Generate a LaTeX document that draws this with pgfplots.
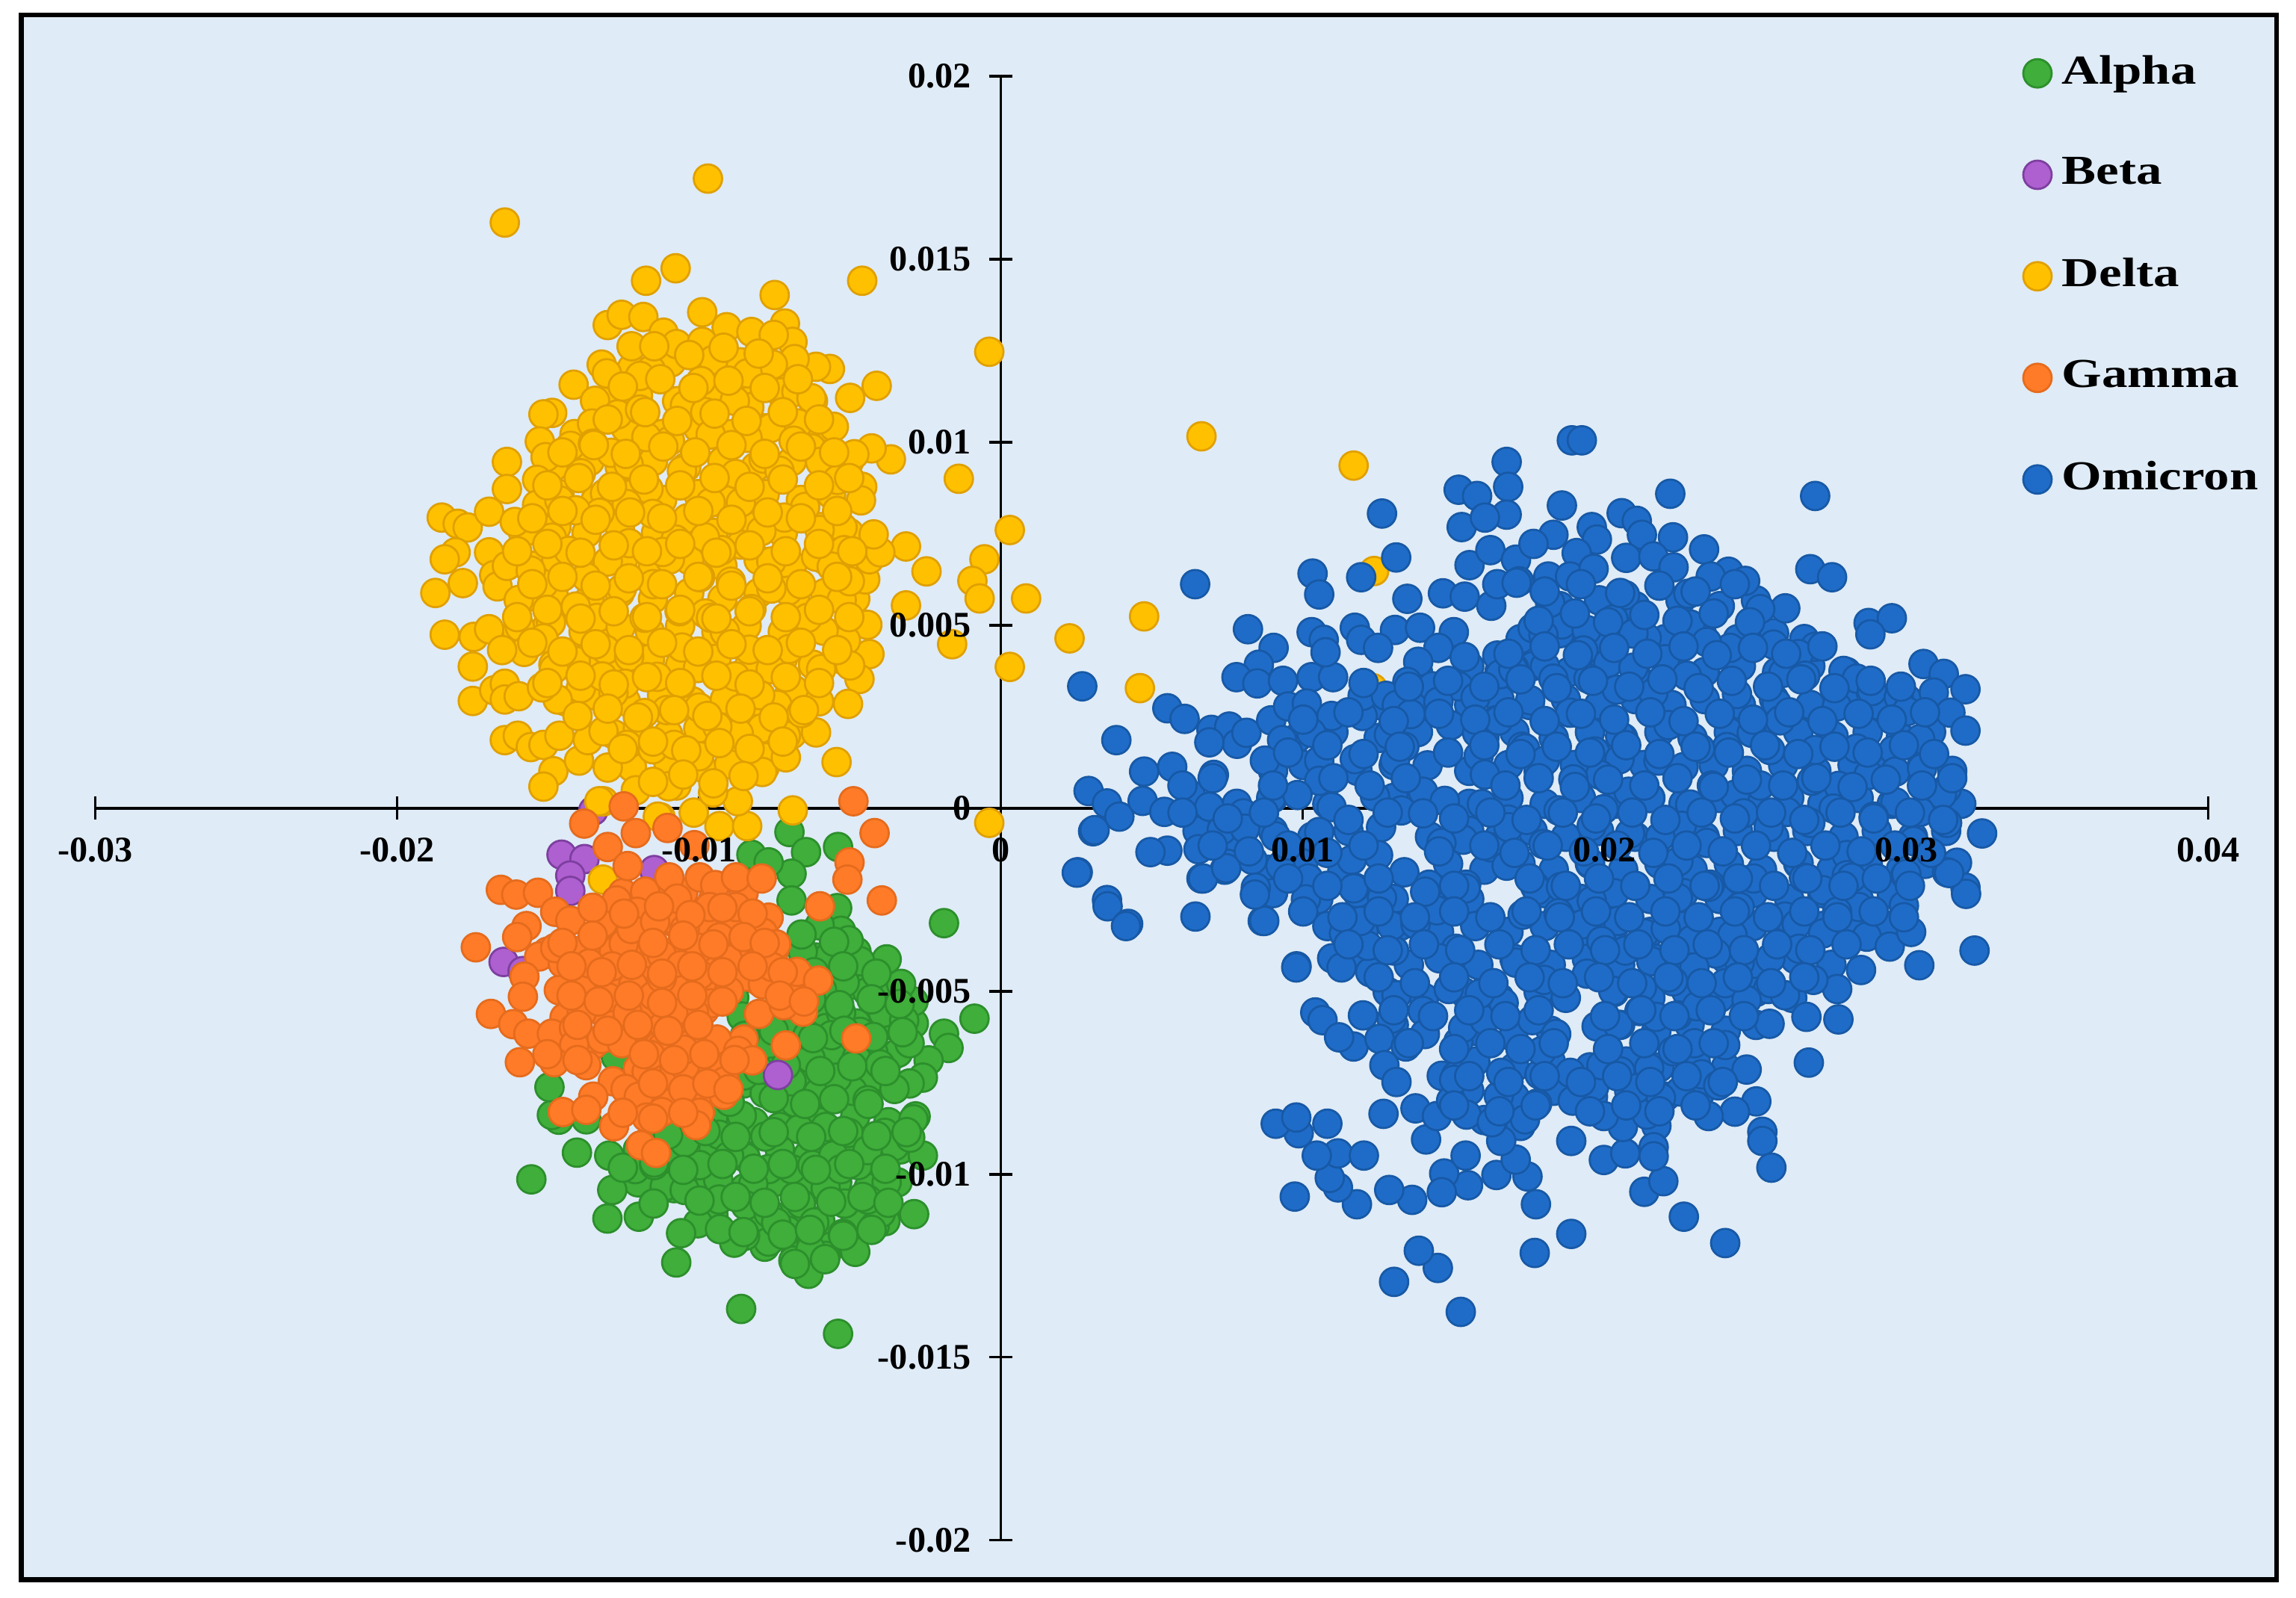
\documentclass[border=0pt]{standalone}
\usepackage{fontspec}
\setmainfont{Liberation Serif}
\newfontfamily\legfont[FakeStretch=1.25]{Liberation Serif}
\usepackage{pgfplots}
\pgfplotsset{compat=1.18}
\definecolor{bgblue}{HTML}{DFEBF6}
\definecolor{alphafill}{HTML}{3FAE3A}
\definecolor{alphaedge}{HTML}{2C8F2C}
\definecolor{betafill}{HTML}{AE5FD0}
\definecolor{betaedge}{HTML}{7D3F9F}
\definecolor{deltafill}{HTML}{FFC000}
\definecolor{deltaedge}{HTML}{E0A000}
\definecolor{gammafill}{HTML}{FF7B27}
\definecolor{gammaedge}{HTML}{E56B1D}
\definecolor{omifill}{HTML}{1F6CC8}
\definecolor{omiedge}{HTML}{1759A6}
% tick labels sit above the points, the axis lines below them
\pgfplotsset{layers/labeltop/.define layer set={axis background,axis grid,axis ticks,axis lines,pre main,main,axis tick labels,axis descriptions,axis foreground}{
  tick style={/pgfplots/on layer=axis ticks},
  axis line style={/pgfplots/on layer=axis lines},
  legend style={/pgfplots/on layer=axis descriptions},
  ticklabel style={/pgfplots/on layer=axis tick labels},
}}
\pgfplotsset{pt/.style n args={2}{only marks, mark=*, mark size=0.97mm,
  mark options={fill=#1, draw=#2, line width=0.4pt}}}
\begin{document}
\begin{tikzpicture}
\begin{axis}[
  scale only axis, width=14.43cm, height=10cm,
  xmin=-0.03, xmax=0.04, ymin=-0.02, ymax=0.02,
  axis lines=middle, clip=false, set layers=labeltop, scaled ticks=false,
  axis line style={-, black, line width=0.5pt},
  hide obscured x ticks=false, hide obscured y ticks=false,
  tick align=center, major tick length=0.16cm,
  tick style={black, line width=0.5pt},
  xtick={-0.03,-0.02,-0.01,0,0.01,0.02,0.03,0.04},
  xticklabels={-0.03,-0.02,-0.01,0,0.01,0.02,0.03,0.04},
  ytick={-0.02,-0.015,-0.01,-0.005,0,0.005,0.01,0.015,0.02},
  yticklabels={-0.02,-0.015,-0.01,-0.005,0,0.005,0.01,0.015,0.02},
  tick label style={font=\bfseries\fontsize{7}{8}\selectfont},
  legend style={at={(axis description cs:0.912,1.022)}, anchor=north west, draw=none, fill=none,
    font=\legfont\bfseries\fontsize{8}{8}\selectfont, row sep=0.31cm, inner sep=0pt},
  legend cell align=left,
]
\begin{pgfonlayer}{axis background}
\fill[white] ([shift={(-0.65cm,-0.39cm)}]rel axis cs:0,0) rectangle ([shift={(0.6cm,0.52cm)}]rel axis cs:1,1);
\draw[black, line width=0.95pt, fill=bgblue] ([shift={(-0.505cm,-0.27cm)}]rel axis cs:0,0) rectangle ([shift={(0.466cm,0.418cm)}]rel axis cs:1,1);
\end{pgfonlayer}
\addplot[pt={alphafill}{alphaedge}] coordinates {
(-.00612,-.00408)(-.00478,-.00392)
(-.00682,-.00482)(-.00578,-.00498)(-.00482,-.00482)(-.00378,-.00498)
(-.00792,-.00572)(-.00678,-.00588)(-.00582,-.00572)(-.00478,-.00588)(-.00372,-.00572)(-.00288,-.00588)
(-.00878,-.00662)(-.00802,-.00678)(-.00682,-.00662)(-.00558,-.00678)(-.00462,-.00662)(-.00362,-.00678)
(-.00852,-.00752)(-.00748,-.00768)(-.00662,-.00752)(-.00548,-.00768)(-.00442,-.00752)
(-.00952,-.00842)(-.00818,-.00858)(-.00702,-.00842)(-.00598,-.00858)(-.00482,-.00842)(-.00372,-.00858)(-.00282,-.00842)
(-.01202,-.00932)(-.01078,-.00948)(-.00952,-.00932)(-.00848,-.00948)(-.00732,-.00932)(-.00638,-.00948)(-.00522,-.00932)(-.00432,-.00948)(-.00332,-.00932)
(-.01202,-.01022)(-.01082,-.01038)(-.00962,-.01022)(-.00848,-.01038)(-.00752,-.01022)(-.00648,-.01038)(-.00542,-.01022)(-.00438,-.01038)(-.00342,-.01022)
(-.00952,-.01112)(-.00822,-.01128)(-.00702,-.01112)(-.00598,-.01128)(-.00482,-.01112)(-.00382,-.01128)
(-.00782,-.01198)(-.00678,-.01212)(-.00562,-.01198)(-.00482,-.01212)
(-.007,-.00065)(-.00645,-.0012)(-.00539,-.00106)(-.00693,-.00179)(-.00826,-.00127)(-.00769,-.00148)
(-.00693,-.00252)(-.00542,-.00273)(-.00529,-.00335)(-.00188,-.00314)(-.00378,-.00413)(-.00466,-.00418)
(-.00087,-.00575)(-.00188,-.00616)(-.00173,-.00655)(-.00239,-.00689)(-.00258,-.00736)(-.00302,-.00752)
(-.00289,-.0085)(-.00258,-.00949)(-.00384,-.00887)(-.00472,-.00975)(-.00378,-.01022)(-.00287,-.01109)
(-.00418,-.01142)(-.00397,-.01106)(-.00523,-.01163)(-.0058,-.01223)(-.00637,-.01272)(-.00687,-.01236)
(-.00706,-.01154)(-.00769,-.01184)(-.00847,-.01168)(-.00883,-.01187)(-.01003,-.01134)(-.01059,-.01161)
(-.01075,-.01241)(-.0086,-.01368)(-.00539,-.01436)(-.01199,-.01116)(-.01303,-.01121)(-.01287,-.01043)
(-.01555,-.01014)(-.01404,-.00941)(-.01297,-.00949)(-.01211,-.00986)(-.01113,-.01033)(-.01047,-.01043)
(-.01464,-.00851)(-.01487,-.00838)(-.01495,-.00762)(-.01275,-.00679)(-.01373,-.0085)(-.00352,-.00595)
(-.0034,-.00668)(-.00422,-.00668)(-.00441,-.00502)(-.00517,-.00476)(-.00289,-.00528)(-.00567,-.00403)
(-.00656,-.00392)(-.0058,-.00601)(-.0063,-.00684)(-.00491,-.00772)(-.00605,-.00778)(-.00681,-.00804)
(-.00782,-.00778)(-.00858,-.0084)(-.00732,-.00871)(-.00668,-.00877)(-.0058,-.00871)(-.00504,-.00887)
(-.0078,-.00897)(-.00845,-.00955)(-.00769,-.00986)(-.00693,-.00986)(-.00624,-.00975)(-.00554,-.00949)
(-.00936,-.01015)(-.0082,-.01027)(-.0058,-.01038)(-.00517,-.0108)(-.00662,-.0108)(-.00845,-.01085)
(-.00769,-.01106)(-.00933,-.01069)(-.00618,-.01132)(-.00441,-.01069)(-.00997,-.00975)(-.00933,-.00892)
(-.01047,-.00913)(-.01148,-.00975)(-.00441,-.00798)(-.00352,-.00767)(-.00478,-.00684)(-.00542,-.00736)
(-.00693,-.00746)(-.00883,-.00517)(-.00858,-.00569)(-.00529,-.00559)(-.00466,-.00611)(-.00693,-.00611)
(-.00352,-.00923)(-.00441,-.00934)(-.00592,-.00497)(-.00504,-.00361)(-.0039,-.00559)(-.00302,-.00642)
(-.00529,-.00986)(-.0063,-.01205)(-.00744,-.01132)(-.0064,-.0053)(-.0078,-.0066)(-.0085,-.0073)
(-.004,-.007)(-.0032,-.0058)(-.0033,-.0048)(-.006,-.0032)(-.009,-.0095)(-.003,-.009)
(-.0056,-.0062)(-.0064,-.0062)(-.0076,-.0072)(-.0093,-.0115)(-.0115,-.0108)(-.0115,-.009)
(-.0066,-.00345)(-.00552,-.00365)(-.00618,-.00448)(-.00522,-.00432)(-.00412,-.00452)
(-.00718,-.00538)(-.00628,-.00522)(-.00535,-.00538)(-.00428,-.00522)(-.00335,-.00535)
(-.00848,-.00622)(-.00752,-.00608)(-.00622,-.00628)(-.00518,-.00608)(-.00422,-.00625)(-.00325,-.00612)
(-.00802,-.00715)(-.00712,-.00702)(-.00598,-.00718)(-.00492,-.00705)(-.00382,-.00718)
(-.00898,-.00802)(-.00752,-.00792)(-.00648,-.00808)(-.00552,-.00795)(-.00438,-.00808)
(-.01102,-.00892)(-.00978,-.00882)(-.00878,-.00898)(-.00752,-.00885)(-.00628,-.00898)(-.00522,-.00882)(-.00412,-.00895)(-.00312,-.00885)
(-.01252,-.00982)(-.01148,-.00968)(-.01052,-.00988)(-.00922,-.00972)(-.00818,-.00985)(-.00722,-.00972)(-.00612,-.00988)(-.00502,-.00972)(-.00382,-.00985)
(-.00998,-.01072)(-.00878,-.01062)(-.00782,-.01078)(-.00682,-.01062)(-.00562,-.01075)(-.00458,-.01062)(-.00372,-.01078)
(-.00852,-.01158)(-.00722,-.01165)(-.00632,-.01152)(-.00522,-.01168)(-.00428,-.01152)
(-.00682,-.01245)(-.00582,-.01232)
};
\addlegendentry{Alpha}
\addplot[pt={betafill}{betaedge}] coordinates {
(-.01455,-.00127)(-.01379,-.00139)(-.01426,-.00184)(-.01426,-.00226)(-.0135,-.00007)(-.01647,-.0042)
(-.01584,-.00445)(-.00738,-.00729)(-.01098,-.00757)(-.01148,-.00169)
};
\addlegendentry{Beta}
\addplot[pt={deltafill}{deltaedge}] coordinates {
(-.01222,.01202)(-.01092,.01218)(-.00972,.01202)(-.00862,.01218)(-.00742,.01202)
(-.01322,.01112)(-.01202,.01128)(-.01072,.01112)(-.00962,.01128)(-.00842,.01112)(-.00722,.01128)(-.00622,.01112)
(-.01412,.01022)(-.01242,.01038)(-.01122,.01022)(-.01002,.01038)(-.00892,.01022)(-.00782,.01038)(-.00662,.01022)(-.00562,.01038)
(-.01482,.00932)(-.01362,.00948)(-.01262,.00932)(-.01152,.00948)(-.01042,.00932)(-.00922,.00948)(-.00812,.00932)(-.00692,.00948)(-.00582,.00932)(-.00502,.00948)
(-.01522,.00842)(-.01462,.00858)(-.01342,.00842)(-.01222,.00858)(-.01122,.00842)(-.01002,.00858)(-.00892,.00842)(-.00782,.00858)(-.00662,.00842)(-.00562,.00858)
(-.01582,.00752)(-.01472,.00768)(-.01372,.00752)(-.01262,.00768)(-.01142,.00752)(-.01062,.00768)(-.00952,.00752)(-.00832,.00768)(-.00722,.00752)(-.00602,.00768)(-.00502,.00752)
(-.01552,.00662)(-.01472,.00678)(-.01362,.00662)(-.01252,.00678)(-.01152,.00662)(-.01032,.00678)(-.00922,.00662)(-.00802,.00678)(-.00692,.00662)(-.00582,.00678)(-.00482,.00662)
(-.01582,.00572)(-.01482,.00588)(-.01362,.00572)(-.01262,.00588)(-.01152,.00572)(-.01032,.00588)(-.00922,.00572)(-.00802,.00588)(-.00682,.00572)(-.00582,.00588)(-.00482,.00572)
(-.01602,.00482)(-.01502,.00498)(-.01382,.00482)(-.01282,.00498)(-.01162,.00482)(-.01062,.00498)(-.00942,.00482)(-.00842,.00498)(-.00722,.00482)(-.00622,.00498)(-.00522,.00482)
(-.01482,.00392)(-.01382,.00408)(-.01272,.00392)(-.01162,.00408)(-.01062,.00392)(-.00942,.00408)(-.00832,.00392)(-.00722,.00408)(-.00622,.00392)(-.00532,.00408)
(-.01442,.00292)(-.01342,.00308)(-.01242,.00292)(-.01122,.00308)(-.01022,.00292)(-.00902,.00308)(-.00802,.00292)(-.00702,.00308)(-.00602,.00292)
(-.01282,.00202)(-.01202,.00218)(-.01102,.00202)(-.01002,.00218)(-.00902,.00202)(-.00792,.00218)(-.00692,.00202)
(-.01222,.00112)(-.01102,.00128)(-.00992,.00112)(-.00872,.00128)(-.00782,.00112)
(-.0097,.0172)(-.01643,.0160)(-.01077,.01475)(-.01175,.01441)(-.00459,.01441)(-.00749,.01402)(-.00038,.01247)
(-.00411,.01154)(-.00499,.01121)(-.00566,.0120)(-.00612,.01206)(-.00364,.00953)(-.00428,.00983)(-.00139,.009)
(-.00485,.00967)(.0003,.0076)(-.00054,.0068)(-.00094,.00621)(-.0007,.00573)(.00084,.00573)(-.00314,.00715)
(-.00246,.00647)(-.00314,.00554)(-.00161,.00448)(.0003,.00386)(-.00442,.00501)(-.00435,.00421)(-.00468,.00353)
(-.00506,.00285)(-.00612,.00207)(-.00544,.00126)(-.00689,-.00006)(-.00038,-.0004)
(.00665,.01016)(.01169,.00936)(.00475,.00524)(.00461,.00328)(.00228,.00464)(.01237,.00648)(.01232,.00328)
(-.01852,.00794)(-.01799,.00777)(-.01766,.00767)(-.01695,.0081)(-.01636,.00946)(-.01636,.00872)(-.01806,.00699)
(-.01842,.0068)(-.01695,.00699)(-.01782,.00615)(-.01873,.00588)(-.01678,.00637)(-.01667,.00606)(-.01842,.00474)
(-.01746,.00468)(-.01695,.00489)(-.01749,.00387)(-.01749,.00293)(-.01678,.00322)(-.01643,.0034)(-.01643,.00297)
(-.01597,.00306)(-.01643,.00186)(-.016,.00198)(-.01557,.00167)(-.01515,.00173)(-.01462,.00198)(-.01482,.00101)
(-.01515,.00059)(-.01397,.0013)(-.01368,.00186)(-.01302,.00111)(-.01316,.00019)(-.01209,.00049)(-.01127,-.00025)
(-.01017,-.00012)(-.00932,-.00049)(-.0084,-.00049)(-.00871,.00019)(-.00953,.00043)(-.01074,.00062)(-.0078,.00139)
(-.0079,.00099)(-.00712,.00139)(-.00712,.00198)(-.00868,.00204)(-.00999,.00142)(-.00686,.00324)(-.0074,.00282)
(-.00595,.0038)(-.00513,.00458)(-.00587,.00485)(-.00701,.00435)(-.00762,.0038)(-.00833,.00433)(-.00914,.00482)
(-.00979,.00532)(-.00826,.00544)(-.00705,.00594)(-.00527,.00569)(-.00449,.00625)(-.00435,.0068)(-.00399,.00699)
(-.00421,.00748)(-.00524,.00767)(-.00612,.00687)(-.0076,.00674)(-.00894,.00619)(-.00996,.00631)(-.01152,.00612)
(-.01255,.006)(-.01064,.00538)(-.01337,.0052)(-.01408,.00551)(-.01515,.00612)(-.01597,.00569)(-.01593,.00495)
(-.0149,.00507)(-.01259,.00495)(-.01579,.00427)(-.01515,.00464)(-.01309,.00433)(-.01408,.00402)(-.01231,.00414)
(-.01056,.00439)(-.01138,.00359)(-.01003,.00383)(-.01391,.00328)(-.01468,.00297)(-.01245,.0034)(-.01283,.00315)
(-.01107,.00268)(-.00999,.00275)(-.00914,.00297)(-.01316,.0021)(-.01238,.00173)(-.01153,.00161)(-.01082,.00173)
(-.00939,.00223)(-.00797,.00309)(-.00499,.0039)
(-.01302,.0132)(-.01256,.01348)(-.01184,.01342)(-.01117,.01299)(-.01074,.01268)(-.00989,.01355)(-.00908,.01314)
(-.00826,.01301)(-.00715,.01324)(-.0069,.01274)(-.00752,.01293)(-.00989,.01274)(-.01223,.01262)(-.00683,.01227)
(-.00755,.01212)(-.00839,.01188)(-.00952,.01225)(-.01159,.01197)(-.01195,.01181)(-.01322,.01212)(-.01305,.01188)
(-.01415,.01157)(-.01344,.01113)(-.01486,.0108)(-.01515,.01076)(-.01269,.01076)(-.01195,.01089)(-.01046,.01101)
(-.00993,.01167)(-.00726,.01136)(-.00677,.01138)(-.00627,.0112)(-.00833,.01095)(-.00979,.01082)(-.00881,.01113)
(-.00553,.01042)(-.00671,.01051)(-.00762,.01039)(-.00686,.01004)(-.00839,.01012)(-.00961,.01021)(-.01096,.01004)
(-.01174,.01014)(-.01354,.01051)(-.01425,.0099)(-.01527,.01002)(-.01508,.00959)(-.01351,.00996)(-.0129,.00971)
(-.01233,.0094)(-.00786,.00955)(-.00627,.00983)(-.00598,.00946)(-.00733,.00922)(-.00878,.00913)(-.01056,.00922)
(-.01391,.00915)(-.01536,.00897)(-.00541,.00897)(-.00459,.00878)(-.00463,.00841)(-.01167,.00872)(-.01311,.0086)
(-.01536,.00829)(-.01462,.00841)(-.01239,.00831)(-.00961,.00835)(-.00861,.00835)(-.00648,.00823)(-.00717,.00794)
(-.00793,.00757)(-.01038,.00792)(-.01153,.00804)(-.01329,.00807)(-.01408,.00814)(-.0161,.00782)(-.01487,.00739)
(-.01431,.00703)(-.01231,.00724)(-.01077,.00734)(-.00861,.0072)(-.00519,.00705)(-.01302,.00674)(-.01096,.0068)
(-.00925,.00705)(-.01636,.00662)(-.01557,.00649)(-.01373,.00631)
(-.01318,-.00195)(-.01136,-.00023)(-.0133,.00019)(-.006,.0076)(-.0056,.0066)(-.005,.0062)(-.0064,.0052)
(-.0088,.0036)(-.0066,.0026)(-.009,.0012)(-.0118,.0026)(-.0106,.0034)(-.0132,.0036)(-.0148,.0038)
(-.0152,.0033)(-.011,.0006)(-.0096,.0052)(-.0118,.0052)(-.0112,.007)(-.0098,.0074)(-.0076,.006)
(-.01148,.01262)(-.01032,.01238)(-.00918,.01258)(-.00802,.01242)
(-.01252,.01152)(-.01128,.01172)(-.01018,.01148)(-.00902,.01168)(-.00782,.01148)(-.00672,.01172)
(-.01302,.01062)(-.01178,.01082)(-.01072,.01058)(-.00948,.01078)(-.00842,.01058)(-.00722,.01082)(-.00602,.01062)
(-.01452,.00972)(-.01348,.00992)(-.01242,.00968)(-.01118,.00988)(-.01012,.00972)(-.00892,.00992)(-.00782,.00968)(-.00662,.00988)(-.00552,.00972)
(-.01502,.00882)(-.01398,.00902)(-.01288,.00878)(-.01182,.00898)(-.01062,.00882)(-.00948,.00902)(-.00832,.00878)(-.00722,.00898)(-.00602,.00882)(-.00502,.00902)
(-.01552,.00792)(-.01452,.00812)(-.01342,.00788)(-.01228,.00808)(-.01122,.00792)(-.01002,.00812)(-.00892,.00788)(-.00772,.00808)(-.00662,.00792)(-.00542,.00812)
(-.01602,.00702)(-.01502,.00722)(-.01392,.00698)(-.01282,.00718)(-.01172,.00702)(-.01062,.00722)(-.00942,.00698)(-.00832,.00718)(-.00712,.00702)(-.00602,.00722)(-.00492,.00702)
(-.01552,.00612)(-.01452,.00632)(-.01342,.00608)(-.01232,.00628)(-.01122,.00612)(-.01002,.00632)(-.00892,.00608)(-.00772,.00628)(-.00662,.00612)(-.00542,.00632)
(-.01602,.00522)(-.01502,.00542)(-.01392,.00518)(-.01282,.00538)(-.01172,.00522)(-.01062,.00542)(-.00942,.00518)(-.00832,.00538)(-.00712,.00522)(-.00602,.00542)(-.00502,.00522)
(-.01652,.00432)(-.01552,.00452)(-.01452,.00428)(-.01342,.00448)(-.01232,.00432)(-.01122,.00452)(-.01002,.00428)(-.00892,.00448)(-.00772,.00432)(-.00662,.00452)(-.00542,.00432)
(-.01502,.00342)(-.01392,.00362)(-.01282,.00338)(-.01172,.00358)(-.01062,.00342)(-.00942,.00362)(-.00832,.00338)(-.00712,.00358)(-.00602,.00342)
(-.01402,.00252)(-.01302,.00272)(-.01202,.00248)(-.01082,.00268)(-.00972,.00252)(-.00862,.00272)(-.00752,.00248)(-.00652,.00268)
(-.01252,.00162)(-.01152,.00182)(-.01042,.00158)(-.00932,.00178)(-.00832,.00162)(-.00722,.00182)
(-.01152,.00072)(-.01052,.00092)(-.00952,.00068)(-.00852,.00088)
};
\addlegendentry{Delta}
\addplot[pt={gammafill}{gammaedge}] coordinates {
(-.01252,-.00232)(-.01122,-.00248)(-.01052,-.00232)(-.00952,-.00248)(-.00852,-.00232)
(-.01302,-.00312)(-.01182,-.00328)(-.01082,-.00312)(-.00982,-.00328)(-.00882,-.00312)(-.00802,-.00328)
(-.01502,-.00392)(-.01352,-.00408)(-.01282,-.00392)(-.01182,-.00408)(-.01082,-.00392)(-.00982,-.00408)(-.00902,-.00392)(-.00822,-.00408)(-.00752,-.00392)
(-.01382,-.00472)(-.01282,-.00488)(-.01182,-.00472)(-.01082,-.00488)(-.00982,-.00472)(-.00902,-.00488)(-.00802,-.00472)(-.00702,-.00488)
(-.01402,-.00552)(-.01282,-.00568)(-.01182,-.00552)(-.01082,-.00568)(-.00982,-.00552)
(-.01452,-.00632)(-.01352,-.00648)(-.01252,-.00632)(-.01132,-.00648)(-.01032,-.00632)(-.00932,-.00648)(-.00852,-.00632)
(-.01202,-.00712)(-.01102,-.00728)(-.01002,-.00712)(-.00922,-.00728)
(-.01202,-.00792)(-.01102,-.00808)(-.01002,-.00792)
(-.00488,.00019)(-.00418,-.00068)(-.0138,-.00042)(-.01249,.00005)(-.01209,-.00068)(-.01104,-.00054)(-.01302,-.00106)
(-.01236,-.00158)(-.01015,-.00101)(-.00501,-.00148)(-.00508,-.00195)(-.00394,-.00252)(-.00599,-.00268)(-.01656,-.00223)
(-.01605,-.00236)(-.01533,-.00231)(-.01739,-.0038)(-.01571,-.00322)(-.01476,-.00283)(-.01426,-.00307)(-.01318,-.00314)
(-.01273,-.00252)(-.01178,-.00228)(-.01098,-.00189)(-.00997,-.00189)(-.00946,-.0021)(-.00877,-.00189)(-.00792,-.00192)
(-.00965,-.0027)(-.00877,-.0027)(-.01098,-.00301)(-.01204,-.00283)(-.00769,-.00299)(-.00788,-.0034)(-.00931,-.00353)
(-.00855,-.0038)(-.01249,-.0037)(-.01395,-.0039)(-.01123,-.00401)(-.01529,-.00405)(-.01287,-.00432)(-.00801,-.00418)
(-.00675,-.00447)(-.00605,-.00471)(-.00845,-.0046)(-.01059,-.00429)(-.00946,-.00465)(-.01578,-.0046)(-.01388,-.00497)
(-.01218,-.00484)(-.01053,-.00497)(-.00788,-.00481)(-.0115,-.00512)(-.01583,-.00515)(-.00959,-.00533)(-.00655,-.00556)
(-.00801,-.00562)(-.00719,-.00538)(-.01689,-.00562)(-.01445,-.00572)(-.01312,-.00562)(-.01615,-.0059)(-.01199,-.00595)
(-.01116,-.00593)(-.01565,-.00616)(-.01487,-.00616)(-.01414,-.00601)(-.01322,-.0063)(-.01016,-.00559)(-.0094,-.00632)
(-.00479,-.00629)(-.00712,-.00648)(-.01022,-.00642)(-.01122,-.00653)(-.01413,-.00647)(-.0087,-.00663)(-.00823,-.00689)
(-.01593,-.00694)(-.01479,-.00694)(-.01373,-.00702)(-.01173,-.0072)(-.00957,-.0071)(-.01285,-.00746)(-.01,-.00757)
(-.00914,-.00746)(-.01243,-.00767)(-.0135,-.00788)(-.01199,-.00788)(-.01451,-.0083)(-.01373,-.00824)(-.01123,-.0083)
(-.01173,-.00845)(-.01281,-.00869)(-.00997,-.00832)(-.01009,-.00866)(-.00918,-.00783)(-.01192,-.00921)(-.01142,-.00942)
(-.01363,-.00424)(-.01451,-.00424)(-.01476,-.00382)(-.01224,-.0033)(-.01047,-.0033)(-.00997,-.00382)(-.00904,-.00413)
(-.01123,-.00465)(-.00997,-.00455)(-.013,-.00517)(-.01236,-.00559)(-.01085,-.00559)(-.01388,-.00559)(-.01464,-.00497)
(-.01255,-.00642)(-.01161,-.00674)(-.01047,-.00705)(-.00744,-.00372)(-.00757,-.00434)(-.01072,-.00247)(-.01145,-.0031)
(-.0105,-.0066)(-.009,-.005)
(-.01352,-.00272)(-.01248,-.00288)(-.01132,-.00268)(-.01028,-.00292)(-.00922,-.00272)(-.00822,-.00288)
(-.01602,-.00352)(-.01452,-.00368)(-.01352,-.00348)(-.01152,-.00368)(-.01052,-.00348)(-.00952,-.00372)(-.00852,-.00352)(-.00782,-.00368)
(-.01422,-.00432)(-.01322,-.00448)(-.01222,-.00428)(-.01122,-.00452)(-.01022,-.00432)(-.00922,-.00448)(-.00822,-.00432)(-.00722,-.00448)
(-.01422,-.00512)(-.01332,-.00528)(-.01232,-.00512)(-.01122,-.00532)(-.01022,-.00512)(-.00922,-.00528)(-.00732,-.00512)(-.00652,-.00528)
(-.01402,-.00592)(-.01302,-.00608)(-.01202,-.00592)(-.01102,-.00608)(-.01002,-.00592)
(-.01502,-.00672)(-.01402,-.00688)(-.01182,-.00672)(-.01082,-.00688)(-.00982,-.00672)(-.00882,-.00688)
(-.01152,-.00752)(-.01052,-.00768)(-.00972,-.00752)(-.00902,-.00768)
(-.01252,-.00832)(-.01152,-.00848)(-.01052,-.00832)
};
\addlegendentry{Gamma}
\addplot[pt={omifill}{omiedge}] coordinates {
(.01852,.00552)(.01982,.00568)(.02102,.00552)(.02252,.00568)(.02382,.00552)(.02502,.00568)
(.01722,.00462)(.01852,.00478)(.01972,.00462)(.02082,.00478)(.02202,.00462)(.02322,.00478)(.02442,.00462)(.02562,.00478)(.02662,.00462)
(.01382,.00372)(.01552,.00388)(.01652,.00372)(.01762,.00388)(.01882,.00372)(.02002,.00388)(.02102,.00372)(.02222,.00388)(.02332,.00372)(.02452,.00388)(.02572,.00372)(.02682,.00388)(.02802,.00372)
(.01252,.00282)(.01402,.00298)(.01552,.00282)(.01652,.00298)(.01752,.00282)(.01872,.00298)(.01982,.00282)(.02102,.00298)(.02222,.00282)(.02332,.00298)(.02452,.00282)(.02562,.00298)(.02682,.00282)(.02792,.00298)(.02902,.00282)(.03002,.00298)
(.00982,.00192)(.01102,.00208)(.01252,.00192)(.01382,.00208)(.01602,.00192)(.01702,.00208)(.01832,.00192)(.01952,.00208)(.02062,.00192)(.02182,.00208)(.02292,.00192)(.02412,.00208)(.02522,.00192)(.02642,.00208)(.02752,.00192)(.02872,.00208)(.02982,.00192)(.03082,.00208)
(.00902,.00102)(.01002,.00118)(.01182,.00102)(.01302,.00118)(.01552,.00102)(.01682,.00118)(.01782,.00102)(.01902,.00118)(.02012,.00102)(.02132,.00118)(.02242,.00102)(.02362,.00118)(.02472,.00102)(.02592,.00118)(.02702,.00102)(.02822,.00118)(.02932,.00102)(.03052,.00118)(.03152,.00102)
(.00782,.00012)(.00902,.00028)(.01082,.00012)(.01302,.00028)(.01552,.00012)(.01682,.00028)(.01802,.00012)(.01922,.00028)(.02032,.00012)(.02152,.00028)(.02262,.00012)(.02382,.00028)(.02492,.00012)(.02612,.00028)(.02722,.00012)(.02842,.00028)(.02952,.00012)(.03072,.00028)(.03182,.00012)
(.00652,-.00062)(.00772,-.00078)(.00902,-.00062)(.01032,-.00078)(.01152,-.00062)(.01422,-.00078)(.01552,-.00062)(.01652,-.00078)(.01762,-.00062)(.01872,-.00078)(.01982,-.00062)(.02102,-.00078)(.02212,-.00062)(.02332,-.00078)(.02442,-.00062)(.02562,-.00078)(.02672,-.00062)(.02792,-.00078)(.02902,-.00062)(.03022,-.00078)(.03132,-.00062)
(.00752,-.00152)(.00882,-.00168)(.01002,-.00152)(.01132,-.00168)(.01482,-.00152)(.01602,-.00168)(.01722,-.00152)(.01832,-.00168)(.01952,-.00152)(.02062,-.00168)(.02182,-.00152)(.02292,-.00168)(.02412,-.00152)(.02522,-.00168)(.02642,-.00152)(.02752,-.00168)(.02872,-.00152)(.02982,-.00168)(.03062,-.00152)
(.00902,-.00232)(.01052,-.00248)(.01182,-.00232)(.01302,-.00248)(.01422,-.00232)(.01552,-.00248)(.01802,-.00232)(.01922,-.00248)(.02032,-.00232)(.02152,-.00248)(.02262,-.00232)(.02382,-.00248)(.02492,-.00232)(.02612,-.00248)(.02722,-.00232)(.02842,-.00248)(.02952,-.00232)
(.01082,-.00322)(.01202,-.00338)(.01322,-.00322)(.01452,-.00338)(.01572,-.00322)(.01682,-.00338)(.01802,-.00322)(.01922,-.00338)(.02032,-.00322)(.02152,-.00338)(.02262,-.00322)(.02382,-.00338)(.02492,-.00322)(.02612,-.00338)(.02722,-.00322)(.02842,-.00338)(.02942,-.00322)
(.01202,-.00412)(.01352,-.00428)(.01472,-.00412)(.01582,-.00428)(.01702,-.00412)(.01822,-.00428)(.01942,-.00412)(.02052,-.00428)(.02172,-.00412)(.02282,-.00428)(.02402,-.00412)(.02512,-.00428)(.02632,-.00412)(.02752,-.00428)
(.01282,-.00502)(.01402,-.00518)(.01532,-.00502)(.01652,-.00518)(.01782,-.00502)(.01872,-.00518)(.02032,-.00502)(.02152,-.00518)(.02272,-.00502)(.02382,-.00518)(.02502,-.00502)(.02622,-.00518)
(.01302,-.00592)(.01572,-.00608)(.01702,-.00592)(.01822,-.00608)(.02052,-.00592)(.02172,-.00608)(.02282,-.00592)(.02402,-.00608)(.02502,-.00592)
(.01572,-.00692)(.01702,-.00708)(.01822,-.00692)(.01952,-.00708)(.02072,-.00692)(.02182,-.00708)(.02302,-.00692)(.02402,-.00708)
(.01552,-.00772)(.01702,-.00788)(.01832,-.00772)(.01962,-.00788)(.02082,-.00772)(.02202,-.00788)(.02322,-.00772)
(.01602,-.00852)(.01722,-.00868)(.02052,-.00852)(.02172,-.00868)
(.01676,.00946)(.01681,.00878)(.01517,.0087)(.01578,.00853)(.01676,.00802)(.01527,.00768)(.01604,.00794)(.01263,.00805)
(.0131,.00685)(.01194,.00631)(.01033,.00641)(.01055,.00584)(.00644,.00612)(.00819,.00489)(.00904,.00438)(.01347,.00572)
(.01553,.00664)(.01622,.00705)(.01707,.00679)(.01465,.00587)(.01537,.00578)(.01625,.00553)(.01645,.00612)(.01717,.0062)
(.01173,.00493)(.01194,.0046)(.01306,.00487)(.01389,.00493)(.0103,.00481)(.0107,.0046)(.0125,.00438)(.01501,.00481)
(.0145,.00438)(.01537,.00413)(.01383,.004)(.01645,.00417)(.01701,.00383)(.00855,.00392)(.00781,.00358)(.0085,.00341)
(.00935,.00348)(.0103,.00358)(.01101,.00358)(.01076,.00426)(.01347,.00345)(.0143,.00333)(.01517,.00333)(.01655,.00366)
(.01573,.00303)(.0145,.00291)(.00552,.00273)(.00609,.00244)(.0027,.00333)(.00383,.00186)(.00698,.00214)(.00757,.00223)
(.00783,.00176)(.00691,.0018)(.00814,.00206)(.00896,.0024)(.00932,.00186)(.00952,.00278)(.01014,.00286)(.01096,.00252)
(.01029,.00206)(.01199,.00252)(.01199,.00307)(.01276,.00307)(.01312,.00282)(.01358,.00257)(.01491,.00227)(.01578,.00206)
(.0164,.0024)(.01727,.00168)(.01583,.00142)(.01604,.00092)(.01286,.00201)(.01337,.00168)(.01173,.00134)(.01306,.0013)
(.01414,.00117)(.01055,.0013)(.01055,.00075)(.00875,.0013)(.00706,.00091)(.00568,.00113)(.00475,.001)(.00291,.00047)
(.00352,.00013)(.00393,-.00023)(.0047,.0002)(.00542,-.0001)(.00306,-.00063)(.00255,-.00175)(.00629,.00036)(.00691,.00004)
(.00804,-.00014)(.00896,.00028)(.00983,.00036)(.01096,.00003)(.0124,.00032)(.01399,.00045)(.01471,.0002)(.01594,.00011)
(.01327,-.00006)(.01399,-.00014)(.01681,-.00031)(.01532,-.00086)(.0146,-.00095)(.01624,-.00107)(.0126,-.00052)(.01055,-.00065)
(.00911,-.00077)(.00732,-.0006)(.00809,-.00056)(.00552,-.00116)(.00496,-.0012)(.00655,-.00112)(.0125,-.00128)(.01163,-.00141)
(.00742,-.00168)(.00665,-.00192)(.00834,-.00141)(.00927,-.00158)(.00352,-.00251)(.01337,-.00175)(.01419,-.00209)(.01542,-.00209)
(.01019,-.00192)(.01173,-.00217)(.00845,-.00217)(.00252,-.00176)(.00311,-.0006)(.00354,-.00268)(.00422,-.00316)(.00415,-.00322)
(.00645,-.00296)(.0067,-.00192)(.00747,-.00164)(.00868,-.00308)(.0098,-.00432)
(.01892,.01005)(.01925,.01005)(.02218,.00859)(.02698,.00853)(.01859,.00827)(.02057,.00806)(.02107,.00785)(.01958,.00768)
(.01975,.00734)(.02124,.00747)(.01831,.00747)(.01765,.00722)(.02227,.0074)(.0233,.00707)(.02072,.00684)(.02162,.00688)
(.01908,.00697)(.02229,.00658)(.02411,.00646)(.02466,.00621)(.02352,.00633)(.02682,.00653)(.02754,.00631)(.01814,.00633)
(.01709,.00616)(.01886,.00633)(.01964,.00654)(.02068,.00582)(.02278,.00586)(.02599,.00546)(.02516,.00544)(.02284,.00502)
(.02875,.00506)(.02952,.00519)(.02881,.00475)(.01859,.00502)(.01762,.00492)(.01798,.00473)(.0182,.00561)(.01941,.00487)
(.0203,.00516)(.0214,.00465)(.02096,.00477)(.02416,.00438)(.0256,.00447)(.02698,.00441)(.02201,.00407)(.0193,.00431)
(.02013,.00397)(.02096,.00384)(.02339,.00454)(.02643,.00421)(.02792,.00375)(.02836,.00354)(.02886,.0032)(.03057,.00394)
(.03124,.00367)(.03196,.00325)(.03091,.00316)(.02975,.00303)(.03002,.00265)(.03146,.00261)(.03196,.00212)(.03046,.00189)
(.02593,.0037)(.02665,.00362)(.02273,.00362)(.02162,.00315)(.01947,.00354)(.01698,.00379)(.01803,.00388)(.01831,.00354)
(.01754,.00295)(.01886,.00261)(.02041,.00324)(.02439,.00312)(.02571,.00286)(.0277,.00278)(.02582,.0024)(.02759,.00197)
(.02212,.00227)(.02052,.00197)(.02488,.00206)(.02836,.00163)(.02406,.00167)(.02317,.00163)(.01737,.00163)(.01649,.0024)
(.01969,.00155)(.0205,.00134)(.02958,.00159)(.02698,.00159)(.02549,.00159)(.02179,.0013)(.02262,.00112)(.01803,.0013)
(.02875,.00091)(.02964,.001)(.03052,.00109)(.03134,.00053)(.03118,.00037)(.01986,.00091)(.01897,.00079)(.02687,.00075)
(.02516,.00062)(.02356,.00062)(.02433,.00037)(.02776,.00061)(.0208,.00045)(.02151,.00028)(.01848,-.00006)(.02964,.00016)
(.03046,-.0001)(.02604,-.0001)(.02759,-.00001)(.02284,.0001)(.02461,-.00014)(.01997,-.00003)(.03135,-.0004)(.02892,-.00023)
(.02682,-.0004)(.02256,-.00048)(.01958,-.00048)(.03251,-.00069)(.01682,-.00052)(.02544,-.00052)(.02085,-.00069)(.02185,-.00078)
(.02339,-.00095)(.02803,-.00128)(.02643,-.00149)(.03024,-.0009)(.02245,-.00145)(.01798,-.00098)(.03168,-.00149)(.03135,-.00175)
(.03196,-.00217)(.0177,-.00213)(.01676,-.00157)(.02494,-.00192)(.0235,-.00209)(.02803,-.00183)(.02997,-.00183)(.01952,-.00149)
(.01524,-.01376)(.01303,-.01294)(.01448,-.01256)(.01385,-.01209)(.01769,-.01215)(.0189,-.01163)(.024,-.01188)(.02263,-.01116)
(.02132,-.01048)(.02195,-.01019)(.01773,-.01082)(.01745,-.01006)(.01642,-.01002)(.01706,-.0096)(.01548,-.0103)(.01469,-.00998)
(.01461,-.01049)(.0154,-.00949)(.01363,-.0107)(.01287,-.01043)(.0118,-.01082)(.01117,-.01036)(.0109,-.0101)(.00974,-.01061)
(.01117,-.00943)(.01047,-.00949)(.01203,-.00949)(.00987,-.00888)(.00911,-.00862)(.00979,-.00845)(.01082,-.00862)(.01268,-.00835)
(.01374,-.0082)(.01409,-.00905)(.01445,-.00841)(.01543,-.00837)(.01658,-.00909)(.01627,-.00858)(.01737,-.0085)(.0189,-.00909)
(.01998,-.00961)(.02069,-.00943)(.02163,-.00926)(.02163,-.00951)(.02061,-.00871)(.0214,-.00837)(.01998,-.00841)(.02523,-.00884)
(.02523,-.00909)(.02553,-.00982)(.02503,-.00801)(.02432,-.00829)(.02345,-.00841)(.02471,-.00714)(.02677,-.00695)(.02547,-.00589)
(.02669,-.0057)(.02775,-.00577)(.02771,-.00494)(.02692,-.00469)(.0285,-.00442)(.03043,-.00429)(.02869,-.00351)(.02945,-.00378)
(.03016,-.00338)(.03198,-.00234)(.03226,-.00389)(.03142,-.00177)(.03,-.0018)(.02992,-.00266)(.00979,-.00435)(.01098,-.0041)
(.01129,-.00435)(.01224,-.00448)(.00873,-.00308)(.00842,-.00236)(.01011,-.00249)(.01311,-.00511)(.01042,-.00558)(.01066,-.00579)
(.012,-.00566)(.01398,-.00554)(.01169,-.00651)(.01121,-.00626)(.01295,-.00575)(.01255,-.0063)(.01342,-.00651)(.01405,-.00617)
(.01271,-.00702)(.01311,-.00748)(.01516,-.00638)(.01532,-.006)(.01461,-.00731)(.01508,-.00731)(.01492,-.00799)(.0165,-.00786)
(.01658,-.00723)(.01785,-.00727)(.01887,-.00723)(.01895,-.00799)(.01966,-.00761)(.01777,-.00807)(.02227,-.00664)(.02298,-.00642)
(.024,-.00647)(.02322,-.00727)(.02377,-.00757)(.0225,-.00774)(.02148,-.0071)(.02053,-.00719)(.0199,-.00702)(.02108,-.00765)
(.02187,-.00791)(.01792,-.00664)(.01698,-.00625)(.01603,-.00579)(.01761,-.00579)(.0184,-.00617)(.01666,-.00532)(.01587,-.00507)
(.01484,-.00494)(.018,-.00469)(.01706,-.00422)(.01508,-.00384)(.01453,-.0041)(.01303,-.00389)(.01216,-.00376)(.01137,-.00342)
(.01192,-.00308)(.01295,-.00321)(.01374,-.00317)(.01445,-.00279)(.01263,-.00245)(.01169,-.00219)(.01406,-.00228)(.0154,-.00219)
(.01777,-.00224)(.01729,-.00291)(.01856,-.00215)(.01958,-.00253)(.01927,-.00317)(.01848,-.00287)(.02045,-.00308)(.02132,-.00342)
(.02203,-.00329)(.0229,-.00359)(.02069,-.00389)(.02155,-.00418)(.0199,-.00363)(.02345,-.00215)(.02243,-.00245)(.02448,-.0027)
(.02598,-.00296)(.02424,-.00346)(.0255,-.0041)(.02448,-.00422)(.02369,-.00397)(.02298,-.00435)(.02227,-.00473)(.02029,-.00499)
(.01942,-.00452)(.02124,-.0049)(.02116,-.00554)(.01974,-.00596)(.02045,-.00592)(.02242,-.00566)(.02306,-.00541)(.02171,-.0057)
(.02542,-.00494)(.024,-.00478)(.02471,-.00524)(.02598,-.00511)(.02724,-.00224)(.02819,-.0019)(.02661,-.0019)(.02842,-.0027)
(.02771,-.00283)(.02637,-.00317)(.02724,-.00342)(.02645,-.00384)
(.01802,.00592)(.01922,.00612)(.02052,.00588)(.02182,.00608)(.02302,.00592)(.02432,.00612)
(.01782,.00512)(.01902,.00532)(.02012,.00508)(.02132,.00528)(.02242,.00512)(.02362,.00532)(.02482,.00508)
(.01682,.00422)(.01802,.00442)(.01912,.00418)(.02032,.00438)(.02142,.00422)(.02262,.00442)(.02372,.00418)(.02492,.00438)(.02602,.00422)(.02722,.00442)
(.01202,.00342)(.01352,.00332)(.01482,.00348)(.01602,.00332)(.01722,.00352)(.01842,.00328)(.01962,.00348)(.02082,.00332)(.02192,.00352)(.02312,.00328)(.02422,.00348)(.02542,.00332)(.02652,.00352)(.02762,.00328)(.02882,.00348)(.02982,.00332)
(.01002,.00242)(.01152,.00262)(.01302,.00238)(.01452,.00258)(.01572,.00242)(.01682,.00262)(.01802,.00238)(.01922,.00258)(.02032,.00242)(.02152,.00262)(.02262,.00238)(.02382,.00258)(.02492,.00242)(.02612,.00262)(.02722,.00238)(.02842,.00258)(.02952,.00242)(.03062,.00262)
(.00952,.00152)(.01082,.00172)(.01202,.00148)(.01322,.00168)(.01482,.00152)(.01602,.00172)(.01722,.00148)(.01842,.00168)(.01952,.00152)(.02072,.00172)(.02182,.00148)(.02302,.00168)(.02412,.00152)(.02532,.00172)(.02642,.00148)(.02762,.00168)(.02872,.00152)(.02992,.00172)(.03092,.00148)
(.00602,.00062)(.00702,.00082)(.00902,.00062)(.01102,.00082)(.01222,.00062)(.01342,.00082)(.01672,.00062)(.01782,.00082)(.01902,.00058)(.02012,.00078)(.02132,.00062)(.02242,.00082)(.02362,.00058)(.02472,.00078)(.02592,.00062)(.02702,.00082)(.02822,.00058)(.02932,.00078)(.03052,.00062)(.03152,.00082)
(.00602,-.00012)(.00752,-.00028)(.00872,-.00012)(.01152,-.00032)(.01282,-.00012)(.01502,-.00028)(.01622,-.00012)(.01742,-.00032)(.01862,-.00012)(.01972,-.00028)(.02092,-.00012)(.02202,-.00032)(.02322,-.00012)(.02432,-.00028)(.02552,-.00012)(.02662,-.00032)(.02782,-.00012)(.02892,-.00028)(.03012,-.00012)(.03122,-.00032)
(.00702,-.00102)(.00822,-.00118)(.00952,-.00102)(.01082,-.00122)(.01202,-.00102)(.01452,-.00118)(.01602,-.00102)(.01702,-.00122)(.01812,-.00102)(.01932,-.00118)(.02042,-.00102)(.02162,-.00122)(.02272,-.00102)(.02392,-.00118)(.02502,-.00102)(.02622,-.00122)(.02732,-.00102)(.02852,-.00118)(.02962,-.00102)(.03082,-.00122)
(.00952,-.00192)(.01082,-.00212)(.01252,-.00192)(.01502,-.00212)(.01752,-.00192)(.01872,-.00212)(.01982,-.00192)(.02102,-.00212)(.02212,-.00192)(.02332,-.00212)(.02442,-.00192)(.02562,-.00212)(.02672,-.00192)(.02792,-.00212)(.02902,-.00192)(.03012,-.00212)
(.01002,-.00282)(.01132,-.00298)(.01252,-.00282)(.01372,-.00298)(.01502,-.00282)(.01622,-.00298)(.01742,-.00282)(.01852,-.00298)(.01972,-.00282)(.02082,-.00298)(.02202,-.00282)(.02312,-.00298)(.02432,-.00282)(.02542,-.00298)(.02662,-.00282)(.02772,-.00298)(.02892,-.00282)(.02992,-.00298)
(.01152,-.00372)(.01282,-.00388)(.01402,-.00372)(.01522,-.00388)(.01652,-.00372)(.01772,-.00388)(.01882,-.00372)(.02002,-.00388)(.02112,-.00372)(.02232,-.00388)(.02342,-.00372)(.02462,-.00388)(.02572,-.00372)(.02682,-.00388)(.02802,-.00372)
(.01252,-.00462)(.01372,-.00478)(.01502,-.00462)(.01632,-.00478)(.01752,-.00462)(.01862,-.00478)(.01982,-.00462)(.02092,-.00478)(.02212,-.00462)(.02322,-.00478)(.02442,-.00462)(.02552,-.00478)(.02662,-.00462)
(.01302,-.00552)(.01432,-.00568)(.01552,-.00552)(.01672,-.00568)(.01782,-.00552)(.02002,-.00568)(.02122,-.00552)(.02232,-.00568)(.02352,-.00552)(.02462,-.00568)
(.01352,-.00642)(.01502,-.00658)(.01622,-.00642)(.01722,-.00658)(.01832,-.00642)(.02012,-.00658)(.02132,-.00642)(.02242,-.00658)(.02362,-.00642)
(.01502,-.00742)(.01552,-.00732)(.01682,-.00748)(.01802,-.00732)(.01922,-.00748)(.02042,-.00732)(.02152,-.00748)(.02272,-.00732)(.02392,-.00748)
(.01502,-.00812)(.01652,-.00828)(.01772,-.00812)(.01952,-.00828)(.02072,-.00812)(.02182,-.00828)(.02302,-.00812)
};
\addlegendentry{Omicron}
\end{axis}
\end{tikzpicture}
\end{document}
